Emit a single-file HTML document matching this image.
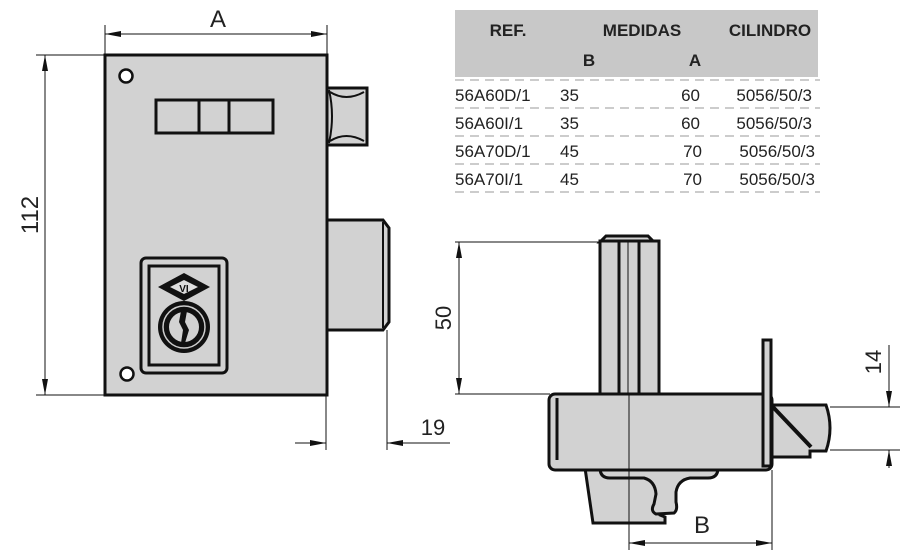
<!DOCTYPE html>
<html><head><meta charset="utf-8"><style>
html,body{margin:0;padding:0;background:#fff;}
svg{display:block;}
text{font-family:"Liberation Sans",sans-serif;}
</style></head><body>
<svg width="900" height="558" viewBox="0 0 900 558" xmlns="http://www.w3.org/2000/svg">
<defs>
<marker id="ar2" viewBox="0 0 16 6" refX="16" refY="3" markerWidth="16" markerHeight="6" orient="auto-start-reverse" markerUnits="userSpaceOnUse"><path d="M0,0 L16,3 L0,6 Z" fill="#111"/></marker>
</defs>

<!-- table -->
<rect x="455" y="10" width="363" height="67" fill="#c8c8c8"/>
<g font-weight="bold" font-size="17" fill="#222" text-anchor="middle">
<text x="508" y="36">REF.</text>
<text x="642" y="36">MEDIDAS</text>
<text x="770" y="36">CILINDRO</text>
<text x="589" y="66">B</text>
<text x="695" y="66">A</text>
</g>
<g stroke="#999" stroke-width="1" stroke-dasharray="9,6">
<line x1="455" y1="80" x2="820" y2="80"/>
<line x1="455" y1="108" x2="820" y2="108"/>
<line x1="455" y1="136" x2="820" y2="136"/>
<line x1="455" y1="164" x2="820" y2="164"/>
<line x1="455" y1="192" x2="820" y2="192"/>
</g>
<g font-size="17" fill="#222">
<text x="455" y="101">56A60D/1</text><text x="560" y="101">35</text><text x="700" y="101" text-anchor="end">60</text><text x="812" y="101" text-anchor="end">5056/50/3</text>
<text x="455" y="129">56A60I/1</text><text x="560" y="129">35</text><text x="700" y="129" text-anchor="end">60</text><text x="812" y="129" text-anchor="end">5056/50/3</text>
<text x="455" y="157">56A70D/1</text><text x="560" y="157">45</text><text x="702" y="157" text-anchor="end">70</text><text x="815" y="157" text-anchor="end">5056/50/3</text>
<text x="455" y="185">56A70I/1</text><text x="560" y="185">45</text><text x="702" y="185" text-anchor="end">70</text><text x="815" y="185" text-anchor="end">5056/50/3</text>
</g>

<!-- front view dims -->
<g stroke="#111" stroke-width="1" fill="none">
<line x1="105" y1="25" x2="105" y2="55"/>
<line x1="327" y1="25" x2="327" y2="55"/>
<line x1="105" y1="34" x2="327" y2="34" marker-start="url(#ar2)" marker-end="url(#ar2)"/>
<line x1="36" y1="55" x2="105" y2="55"/>
<line x1="36" y1="395" x2="105" y2="395"/>
<line x1="45" y1="55" x2="45" y2="395" marker-start="url(#ar2)" marker-end="url(#ar2)"/>
<line x1="326" y1="395" x2="326" y2="450"/>
<line x1="387" y1="330" x2="387" y2="450"/>
<line x1="295" y1="443" x2="326" y2="443" marker-end="url(#ar2)"/>
<line x1="450" y1="443" x2="387" y2="443" marker-end="url(#ar2)"/>
</g>
<text x="218" y="27" font-size="24" text-anchor="middle" fill="#222">A</text>
<text transform="translate(38,215) rotate(-90)" font-size="24" text-anchor="middle" fill="#222">112</text>
<text x="433" y="435" font-size="22" text-anchor="middle" fill="#222">19</text>

<!-- front body -->
<g stroke="#111" stroke-width="3" fill="#d2d2d2">
<path d="M327,88 L367,88 L367,145 L327,145 Z"/>
<path d="M325,220 L383,220 L389,228 L389,322 L383,330 L325,330 Z"/>
<rect x="105" y="55" width="222" height="340"/>
</g>
<g stroke="#111" stroke-width="2" fill="none">
<path d="M330,92 Q346,102 364,92"/>
<path d="M330,141 Q346,131 364,141"/>
<path d="M329,90 Q335,116 329,143"/>
<line x1="383" y1="222" x2="383" y2="328"/>
</g>
<circle cx="126" cy="76" r="6.5" fill="#fff" stroke="#111" stroke-width="2.5"/>
<circle cx="127" cy="374" r="6.5" fill="#fff" stroke="#111" stroke-width="2.5"/>
<g stroke="#111" stroke-width="3" fill="none">
<rect x="156" y="100" width="117" height="33"/>
<line x1="199" y1="100" x2="199" y2="133"/>
<line x1="229" y1="100" x2="229" y2="133"/>
<rect x="141" y="258" width="86" height="115" rx="5"/>
<rect x="149" y="266" width="70" height="99"/>
</g>
<path d="M158,287 L184,273 L210,287 L184,301 Z" fill="#111"/>
<path d="M170,287 L184,280 L198,287 L184,294 Z" fill="#ddd"/>
<text x="184" y="292" font-size="10" font-weight="bold" text-anchor="middle" fill="#111">VI</text>
<circle cx="184" cy="327" r="26" fill="#111"/>
<circle cx="184" cy="327" r="21" fill="none" stroke="#ccc" stroke-width="1.5"/>
<circle cx="184" cy="327" r="16" fill="#d2d2d2" stroke="#111" stroke-width="2"/>
<path d="M181,311 L187,311 L185,322 L189,330 L185,343 L181,343 L183,330 L179,322 Z" fill="#111"/>

<!-- side view dims -->
<g stroke="#111" stroke-width="1" fill="none">
<line x1="455" y1="242" x2="600" y2="242"/>
<line x1="455" y1="394" x2="550" y2="394"/>
<line x1="459" y1="242" x2="459" y2="394" marker-start="url(#ar2)" marker-end="url(#ar2)"/>
<line x1="830" y1="407" x2="900" y2="407"/>
<line x1="830" y1="450" x2="900" y2="450"/>
<line x1="889" y1="345" x2="889" y2="407" marker-end="url(#ar2)"/>
<line x1="889" y1="468" x2="889" y2="450" marker-end="url(#ar2)"/>
<line x1="772" y1="470" x2="772" y2="550"/>
</g>
<text transform="translate(451,318) rotate(-90)" font-size="22" text-anchor="middle" fill="#222">50</text>
<text transform="translate(881,362) rotate(-90)" font-size="22" text-anchor="middle" fill="#222">14</text>
<text x="702" y="533" font-size="24" text-anchor="middle" fill="#222">B</text>

<!-- side body -->
<g stroke="#111" stroke-width="3" fill="#d2d2d2">
<path d="M585,468 L593,523 L665,523 L665,517 L660,515 L660,468 Z"/>
<path d="M600,468 L718,468 Q718,478 708,478 L690,478 Q678,480 676,492 L676,502 Q678,510 674,513 L656,514 Q650,511 654,504 L656,494 Q655,481 644,478 L610,478 Q600,478 600,468 Z"/>
<path d="M770,405 L826,405 Q834,428 826,451 L810,451 L810,457 L770,457 Z"/>
<path d="M772,406 L811,447" fill="none" stroke-width="4"/>
<path d="M606,236 L648,236 L652,240 L652,242 L600,242 Z"/>
<rect x="600" y="241" width="59" height="153"/>
<rect x="549" y="394" width="223" height="76" rx="6"/>
<rect x="763" y="340" width="8" height="126"/>
</g>
<g stroke="#111" stroke-width="3">
<line x1="619" y1="242" x2="619" y2="394"/>
<line x1="639" y1="242" x2="639" y2="394"/>
<line x1="557" y1="398" x2="557" y2="460"/>
</g>
<line x1="628" y1="242" x2="628" y2="394" stroke="#111" stroke-width="1"/>
<g stroke="#111" stroke-width="1" fill="none">
<line x1="629" y1="394" x2="629" y2="550"/>
<line x1="629" y1="543" x2="772" y2="543" marker-start="url(#ar2)" marker-end="url(#ar2)"/>
</g>
</svg>
</body></html>
